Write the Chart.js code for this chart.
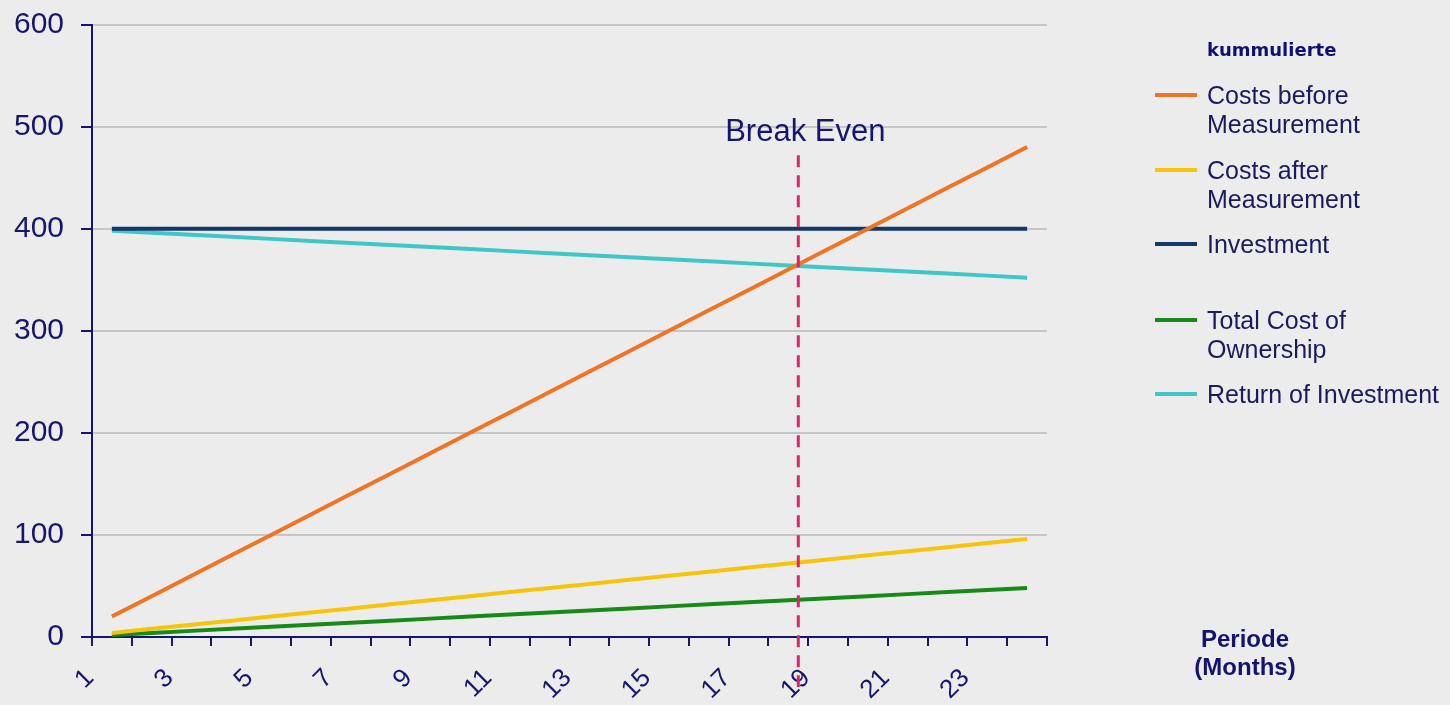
<!DOCTYPE html>
<html>
<head>
<meta charset="utf-8">
<script src="https://cdn.jsdelivr.net/npm/chart.js@4"></script>
<style>
  html, body { margin: 0; padding: 0; background: #ececec; }
  #wrap { position: relative; width: 1450px; height: 705px; }
  #legend { position: absolute; left: 1150px; top: 0; font-family: "Liberation Sans", Arial, sans-serif; color: #1a1a5e; }
  #legend .title { position: absolute; left: 57px; top: 39px; font-family: "DejaVu Sans", Verdana, sans-serif; font-weight: bold; font-size: 18px; color: #101070; white-space: nowrap; }
  #legend .item { position: absolute; left: 0; white-space: nowrap; }
  #legend .sw { position: absolute; left: 5px; width: 42px; height: 4px; }
  #legend .txt { position: absolute; left: 57px; font-size: 25px; line-height: 29px; }
  #xtitle { position: absolute; left: 1170px; top: 625px; width: 150px; text-align: center; font-family: "Liberation Sans", Arial, sans-serif; font-weight: bold; font-size: 24px; line-height: 28px; color: #141470; }
</style>
</head>
<body>
<div id="wrap">
  <canvas id="chart" width="1450" height="705"></canvas>
  <div id="legend"></div>
  <div id="xtitle">Periode<br>(Months)</div>
</div>
<script>
const periods = ["1","2","3","4","5","6","7","8","9","10","11","12","13","14","15","16","17","18","19","20","21","22","23","24"];
const costsBefore = [20,40,60,80,100,120,140,160,180,200,220,240,260,280,300,320,340,360,380,400,420,440,460,480];
const costsAfter = [4,8,12,16,20,24,28,32,36,40,44,48,52,56,60,64,68,72,76,80,84,88,92,96];
const investment = [400,400,400,400,400,400,400,400,400,400,400,400,400,400,400,400,400,400,400,400,400,400,400,400];
const totalCost = [2,4,6,8,10,12,14,16,18,20,22,24,26,28,30,32,34,36,38,40,42,44,46,48];
const returnInv = [398,396,394,392,390,388,386,384,382,380,378,376,374,372,370,368,366,364,362,360,358,356,354,352];
const breakEvenPeriod = 18.25;
const legendTitle = "kummulierte";

const NAVY = "#16166e";
const series = [
    { label: "Costs before\nMeasurement", data: costsBefore, color: "#ef7424", top: 81 },
    { label: "Costs after\nMeasurement", data: costsAfter, color: "#f7c40c", top: 156 },
    { label: "Investment", data: investment, color: "#123968", top: 230 },
    { label: "Total Cost of\nOwnership", data: totalCost, color: "#178a17", top: 306 },
    { label: "Return of Investment", data: returnInv, color: "#3fc6c6", top: 380 }
];

// --- LEGEND (html) ---
function buildLegend() {
    const box = document.getElementById("legend");
    const t = document.createElement("div");
    t.className = "title";
    t.textContent = legendTitle;
    box.appendChild(t);
    series.forEach(s => {
        const item = document.createElement("div");
        item.className = "item";
        item.style.top = s.top + "px";
        const sw = document.createElement("div");
        sw.className = "sw";
        sw.style.background = s.color;
        sw.style.top = "12px";
        const txt = document.createElement("div");
        txt.className = "txt";
        txt.innerHTML = s.label.replace("\n", "<br>");
        item.appendChild(sw);
        item.appendChild(txt);
        box.appendChild(item);
    });
}

// --- BREAK EVEN marker ---
const breakEvenPlugin = {
    id: "breakEven",
    afterDatasetsDraw(chart) {
        const ctx = chart.ctx;
        const x = chart.scales.x.getPixelForValue(breakEvenPeriod - 1);
        const yTop = chart.scales.y.getPixelForValue(472);
        const yBot = chart.chartArea.bottom + 50;
        ctx.save();
        ctx.strokeStyle = "#e2226c";
        ctx.lineWidth = 3;
        ctx.setLineDash([12, 8]);
        ctx.beginPath();
        ctx.moveTo(x, yTop);
        ctx.lineTo(x, yBot);
        ctx.stroke();
        ctx.setLineDash([]);
        ctx.fillStyle = NAVY;
        ctx.font = "31px 'Liberation Sans', Arial, sans-serif";
        ctx.textAlign = "center";
        ctx.textBaseline = "middle";
        ctx.fillText("Break Even", x + 7, chart.scales.y.getPixelForValue(494));
        ctx.restore();
    }
};

function drawChart() {
    new Chart(document.getElementById("chart"), {
        type: "line",
        data: {
            labels: periods,
            datasets: series.map(s => ({
                label: s.label,
                data: s.data,
                borderColor: s.color,
                backgroundColor: s.color,
                borderWidth: 4,
                pointRadius: 0,
                tension: 0
            }))
        },
        options: {
            responsive: false,
            animation: false,
            layout: { padding: { left: 0, right: 403, top: 20, bottom: 0 } },
            plugins: { legend: { display: false }, tooltip: { enabled: false } },
            scales: {
                x: {
                    offset: true,
                    afterFit: s => { s.height = 68; },
                    grid: { drawOnChartArea: false, offset: true, tickColor: NAVY, tickLength: 9, lineWidth: 2 },
                    border: { color: NAVY, width: 2 },
                    ticks: {
                        autoSkip: false,
                        minRotation: 45,
                        maxRotation: 45,
                        labelOffset: -22,
                        padding: 17,
                        color: NAVY,
                        font: { family: "'Liberation Sans', Arial, sans-serif", size: 26 },
                        callback: function (v, i) { return i % 2 === 0 ? periods[i] : ""; }
                    }
                },
                y: {
                    min: 0,
                    max: 600,
                    afterFit: s => { s.width = 92; },
                    grid: { color: "#c6c6c6", lineWidth: 2, tickColor: NAVY, tickLength: 11 },
                    border: { color: NAVY, width: 2 },
                    ticks: {
                        stepSize: 100,
                        padding: 17,
                        color: NAVY,
                        font: { family: "'Liberation Sans', Arial, sans-serif", size: 30, lineHeight: 0.5 }
                    }
                }
            }
        },
        plugins: [breakEvenPlugin]
    });
}

buildLegend();
drawChart();
</script>
</body>
</html>
